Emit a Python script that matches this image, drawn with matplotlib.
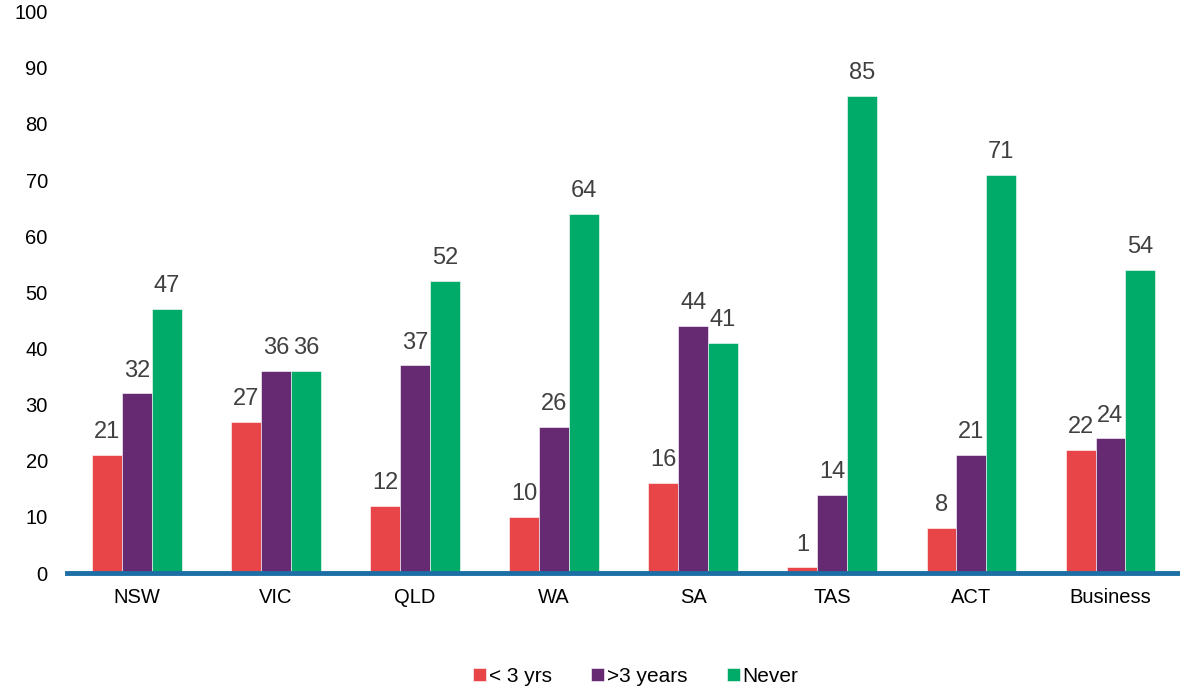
import matplotlib.pyplot as plt
import numpy as np

plt.rcParams['font.family'] = ['Liberation Sans', 'DejaVu Sans']

# Data
regions = ['NSW', 'VIC', 'QLD', 'WA', 'SA', 'TAS', 'ACT', 'Business']
under_3 = [21, 27, 12, 10, 16, 1, 8, 22]
over_3 = [32, 36, 37, 26, 44, 14, 21, 24]
never = [47, 36, 52, 64, 41, 85, 71, 54]

series = [('< 3 yrs', under_3, '#E84548'),
          ('>3 years', over_3, '#662A73'),
          ('Never', never, '#00AB6A')]

fig = plt.figure(figsize=(11.8, 6.88), dpi=100)
ax = fig.add_axes([0.057, 0.167, 0.943, 0.816])

x = np.arange(len(regions))
width = 0.215
for i, (name, vals, color) in enumerate(series):
    bars = ax.bar(x + (i - 1) * width, vals, width, color=color, label=name,
                  edgecolor='white', linewidth=0.4)
    ax.bar_label(bars, padding=8.5, fontsize=17, color='#404040')

ax.set_xlim(-0.5, len(regions) - 0.5)
ax.set_ylim(0, 100)
ax.set_yticks(range(0, 101, 10))
ax.set_xticks(x)
ax.set_xticklabels(regions)
ax.tick_params(axis='both', length=0, labelsize=14.5, colors='black')
ax.tick_params(axis='y', pad=14)
ax.tick_params(axis='x', pad=11)

for side in ['top', 'right', 'left']:
    ax.spines[side].set_visible(False)
ax.spines['bottom'].set_color('#1C6EA4')
ax.spines['bottom'].set_linewidth(3.5)

ax.legend(loc='center', bbox_to_anchor=(0.511, -0.184), ncol=3,
          frameon=False, fontsize=15, handlelength=0.6, handleheight=0.6,
          handletextpad=0.15, columnspacing=1.9)

plt.savefig('out.png', dpi=100)
